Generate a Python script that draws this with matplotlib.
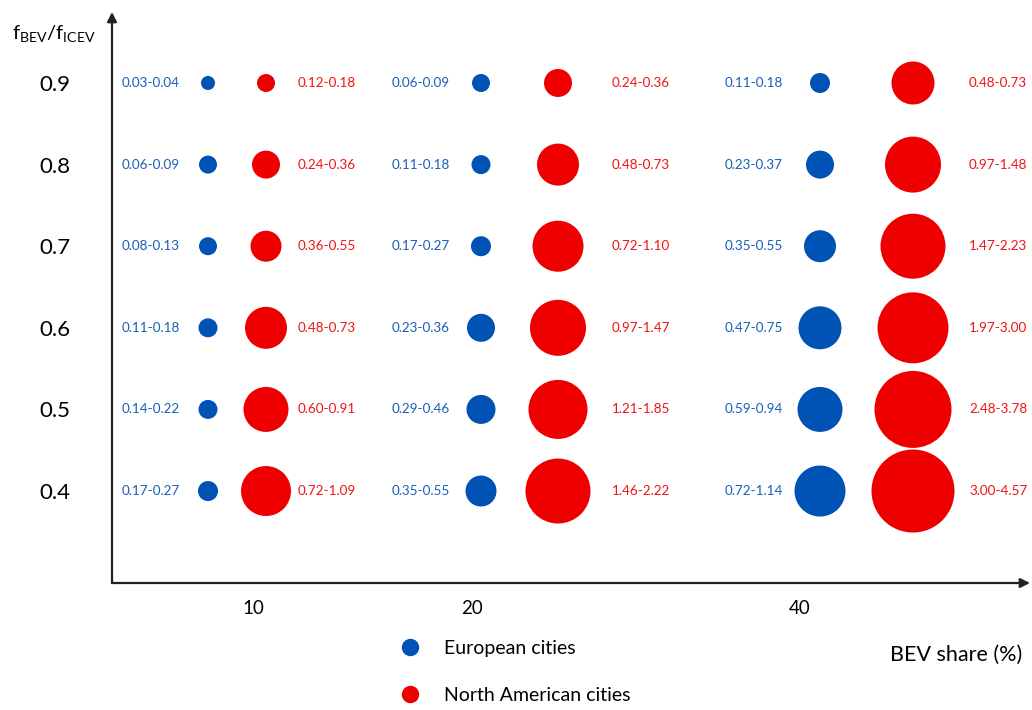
import matplotlib.pyplot as plt
from matplotlib.lines import Line2D

plt.rcParams['font.family'] = ['Lato', 'DejaVu Sans']

shares = ['10', '20', '40']
ratios = [0.9, 0.8, 0.7, 0.6, 0.5, 0.4]

# cost ranges per BEV share column, rows top (0.9) to bottom (0.4)
eu_ranges = [
    ['0.03-0.04', '0.06-0.09', '0.08-0.13', '0.11-0.18', '0.14-0.22', '0.17-0.27'],
    ['0.06-0.09', '0.11-0.18', '0.17-0.27', '0.23-0.36', '0.29-0.46', '0.35-0.55'],
    ['0.11-0.18', '0.23-0.37', '0.35-0.55', '0.47-0.75', '0.59-0.94', '0.72-1.14'],
]
na_ranges = [
    ['0.12-0.18', '0.24-0.36', '0.36-0.55', '0.48-0.73', '0.60-0.91', '0.72-1.09'],
    ['0.24-0.36', '0.48-0.73', '0.72-1.10', '0.97-1.47', '1.21-1.85', '1.46-2.22'],
    ['0.48-0.73', '0.97-1.48', '1.47-2.23', '1.97-3.00', '2.48-3.78', '3.00-4.57'],
]
# bubble diameters (px)
eu_diam = [[14, 18, 18, 19, 19, 20], [18, 19, 20, 28, 29, 31], [20, 28, 32, 43, 45, 51]]
na_diam = [[18, 28, 31, 42, 45, 50], [28, 42, 51, 56, 59, 65], [43, 56, 65, 71, 77, 83]]

# layout of the columns along the x axis
eu_x = [96, 369, 708]
na_x = [154, 446, 801]
eu_lab_x = [68, 338, 671]
na_lab_x = [186, 500, 857]
tick_x = [141, 360, 688]

blue = '#0052b4'
red = '#ee0000'
blue_txt = '#1a5fb8'
red_txt = '#f01414'
dpi = 100

fig = plt.figure(figsize=(10.32, 7.10), dpi=dpi)
ax = fig.add_axes([112 / 1032, 127 / 710, 918 / 1032, 571 / 710])
ax.set_xlim(0, 918)
ax.set_ylim(0.2873, 0.987)

for i in range(len(shares)):
    s_eu = [(d * 72 / dpi) ** 2 for d in eu_diam[i]]
    s_na = [(d * 72 / dpi) ** 2 for d in na_diam[i]]
    ax.scatter([eu_x[i]] * len(ratios), ratios, s=s_eu, color=blue, linewidths=0, zorder=3)
    ax.scatter([na_x[i]] * len(ratios), ratios, s=s_na, color=red, linewidths=0, zorder=3)
    for j, r in enumerate(ratios):
        ax.text(eu_lab_x[i], r, eu_ranges[i][j], color=blue_txt, fontsize=9.7,
                ha='right', va='center')
        ax.text(na_lab_x[i], r, na_ranges[i][j], color=red_txt, fontsize=9.7,
                ha='left', va='center')

ax.set_xticks(tick_x)
ax.set_xticklabels(shares)
ax.set_yticks(ratios)
ax.set_yticklabels([f'{r:.1f}' for r in ratios])
ax.tick_params(axis='x', length=0, pad=12, labelsize=13.5)
ax.tick_params(axis='y', length=0, pad=30, labelsize=16)
for sp in ax.spines.values():
    sp.set_visible(False)

# axis arrows
arrow = dict(arrowstyle='-|>', color='#222222', lw=1.6, mutation_scale=14, shrinkA=0, shrinkB=0)
ax.annotate('', xy=(0, 1.0), xytext=(0, 0), xycoords='axes fraction', arrowprops=arrow)
ax.annotate('', xy=(1.0, 0), xytext=(0, 0), xycoords='axes fraction', arrowprops=arrow)

fig.text(12 / 1032, 1 - 33 / 710, r'$\mathregular{f_{BEV}/f_{ICEV}}$', fontsize=14.5,
         ha='left', va='center')
fig.text(1022 / 1032, 1 - 655 / 710, 'BEV share (%)', fontsize=15.5, ha='right', va='center')

handles = [Line2D([], [], marker='o', linestyle='none', markersize=16 * 72 / dpi, color=blue),
           Line2D([], [], marker='o', linestyle='none', markersize=16 * 72 / dpi, color=red)]
fig.legend(handles, ['European cities', 'North American cities'], loc='upper left',
           bbox_to_anchor=(401 / 1032, 1 - 640 / 710), frameon=False, fontsize=14,
           borderpad=0, borderaxespad=0, handlelength=0.9, handletextpad=1.3, labelspacing=1.55)

fig.savefig('out.png', dpi=dpi)
